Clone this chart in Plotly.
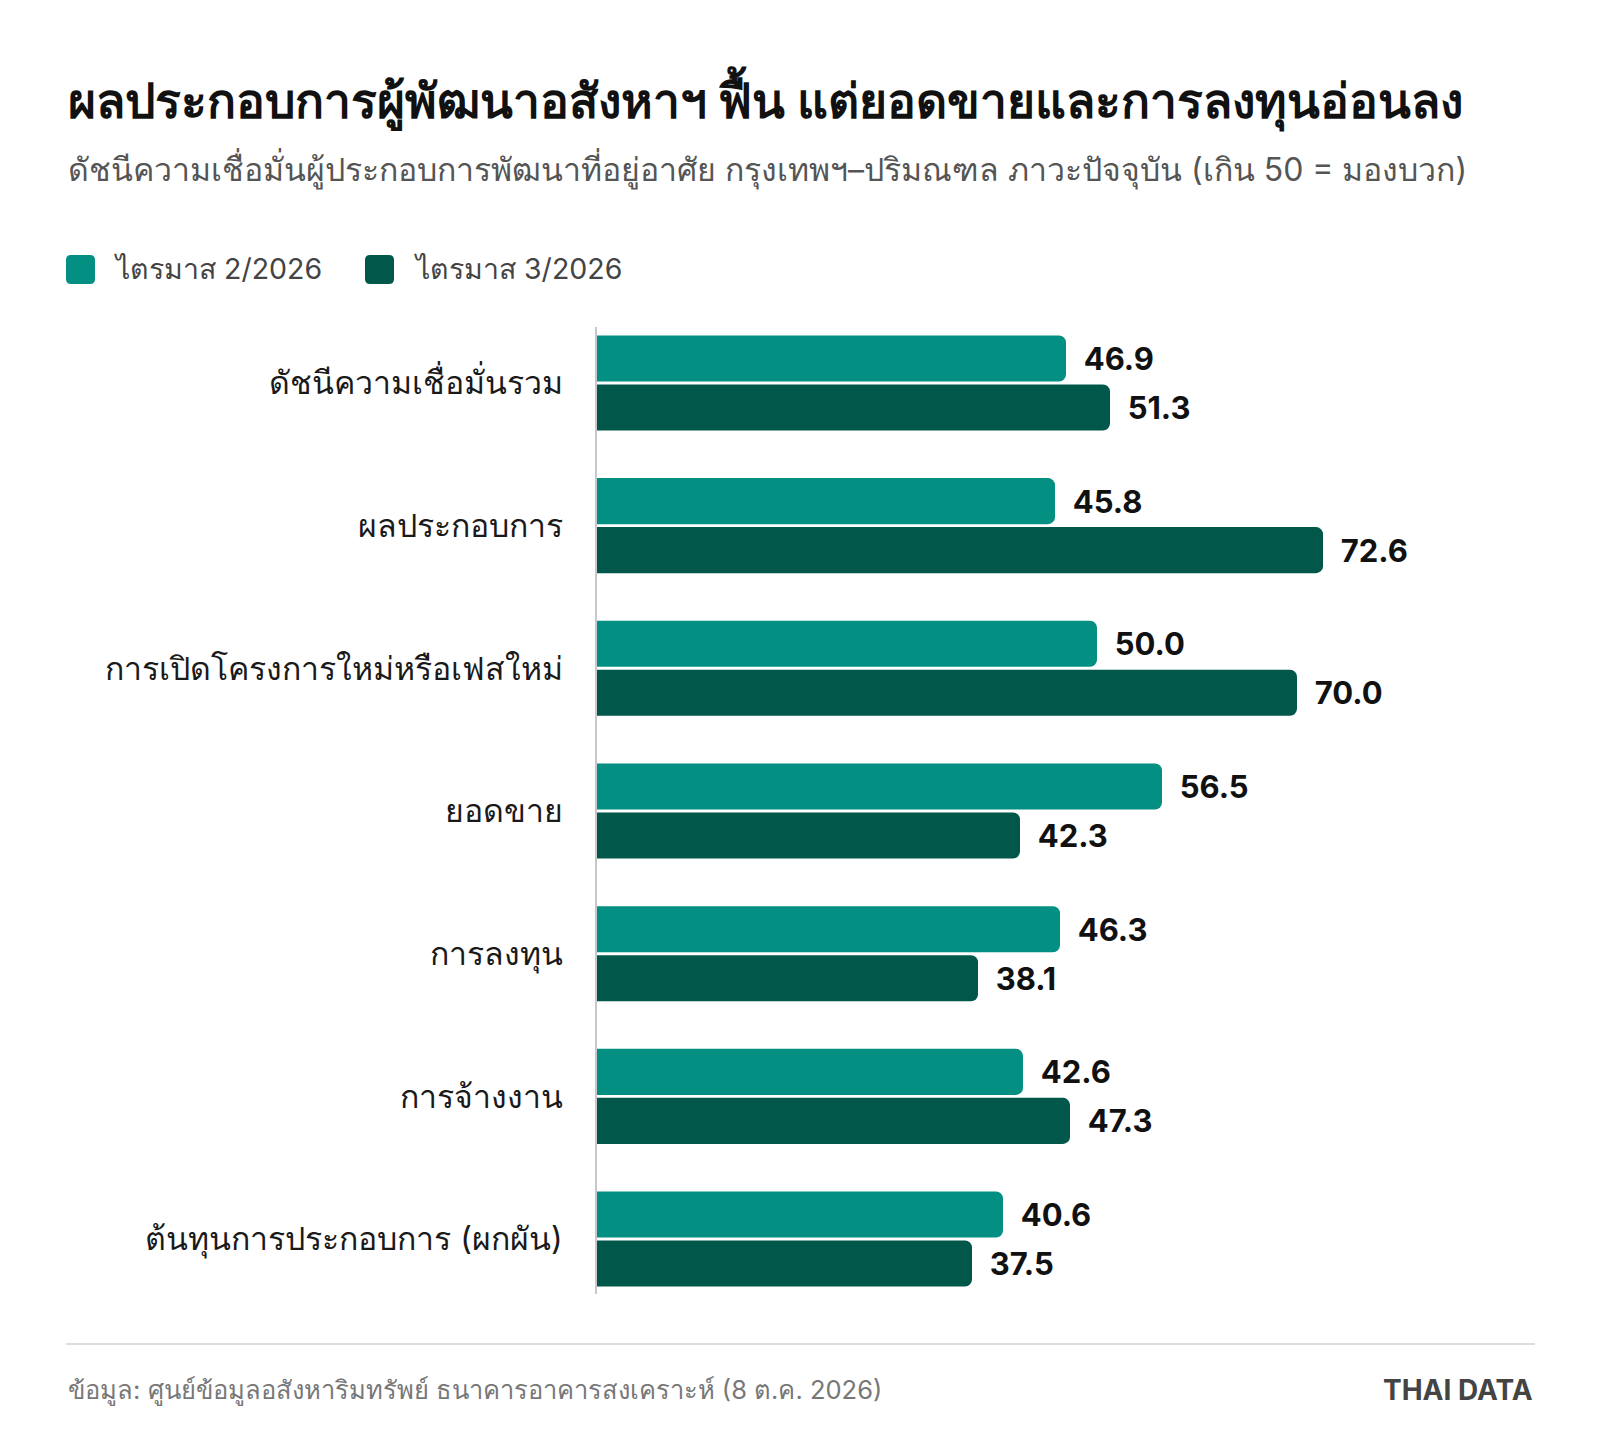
import plotly.graph_objects as go

categories = [
    "ดัชนีความเชื่อมั่นรวม",
    "ผลประกอบการ",
    "การเปิดโครงการใหม่หรือเฟสใหม่",
    "ยอดขาย",
    "การลงทุน",
    "การจ้างงาน",
    "ต้นทุนการประกอบการ (ผกผัน)",
]
series_names = ["ไตรมาส 2/2026", "ไตรมาส 3/2026"]
q2_values = [46.9, 45.8, 50.0, 56.5, 46.3, 42.6, 40.6]
q3_values = [51.3, 72.6, 70.0, 42.3, 38.1, 47.3, 37.5]
colors = ["#039083", "#02574B"]

title = "ผลประกอบการผู้พัฒนาอสังหาฯ ฟื้น แต่ยอดขายและการลงทุนอ่อนลง"
subtitle = "ดัชนีความเชื่อมั่นผู้ประกอบการพัฒนาที่อยู่อาศัย กรุงเทพฯ–ปริมณฑล ภาวะปัจจุบัน (เกิน 50 = มองบวก)"
source = "ข้อมูล: ศูนย์ข้อมูลอสังหาริมทรัพย์ ธนาคารอาคารสงเคราะห์ (8 ต.ค. 2026)"
brand = "THAI DATA"

W, H = 1600, 1456
L, R, T, B = 597, 65, 327, 162
PW, PH = W - L - R, H - T - B
FONT = "Inter, Noto Sans, sans-serif"

fig = go.Figure()
for name, vals, col in zip(series_names, [q2_values, q3_values], colors):
    fig.add_trace(go.Bar(
        y=categories, x=vals, name=name, orientation="h",
        marker=dict(color=col, cornerradius=7, line=dict(width=0)),
        text=[f"{v:.1f}" for v in vals],
        texttemplate="\u00a0\u00a0%{text}",
        textposition="outside", cliponaxis=False, constraintext="none",
        textfont=dict(size=31, color="#111111", family=FONT, weight="bold"),
        showlegend=False,
    ))

fig.update_layout(
    width=W, height=H,
    margin=dict(l=L, r=R, t=T, b=B),
    paper_bgcolor="white", plot_bgcolor="white",
    barmode="group", bargap=0.313, bargroupgap=0.061,
    font=dict(family=FONT),
    xaxis=dict(range=[0, 93.8], visible=False, fixedrange=True),
    yaxis=dict(
        range=[6.385, -0.392], showgrid=False, zeroline=False,
        showline=True, linecolor="#C8C8C8", linewidth=2,
        ticks="", ticklabelstandoff=26,
        tickfont=dict(size=32, color="#1A1A1A", family=FONT),
    ),
)

def px(x):
    return (x - L) / PW

def py(y):
    return (H - B - y) / PH

annos = [
    dict(text=f"<b>{title}</b>", x=px(66), y=py(99), xanchor="left", yanchor="middle",
         font=dict(size=48, color="#111111")),
    dict(text=subtitle, x=px(66), y=py(169), xanchor="left", yanchor="middle",
         font=dict(size=32, color="#555555")),
    dict(text=series_names[0], x=px(112), y=py(269), xanchor="left", yanchor="middle",
         font=dict(size=28.5, color="#444444")),
    dict(text=series_names[1], x=px(412), y=py(269), xanchor="left", yanchor="middle",
         font=dict(size=28.5, color="#444444")),
    dict(text=source, x=px(66), y=py(1390), xanchor="left", yanchor="middle",
         font=dict(size=25.5, color="#777777")),
    dict(text=f"<b>{brand}</b>", x=px(1535), y=py(1390), xanchor="right", yanchor="middle",
         font=dict(size=28, color="#444444")),
]
for a in annos:
    a.update(xref="paper", yref="paper", showarrow=False)
    fig.add_annotation(**a)

def rrect_paper(x0, y0, x1, y1, r):
    def P(x, y):
        return f"{px(x)},{py(y)}"
    return (f"M {P(x0+r,y0)} L {P(x1-r,y0)} Q {P(x1,y0)} {P(x1,y0+r)} L {P(x1,y1-r)} "
            f"Q {P(x1,y1)} {P(x1-r,y1)} L {P(x0+r,y1)} Q {P(x0,y1)} {P(x0,y1-r)} L {P(x0,y0+r)} Q {P(x0,y0)} {P(x0+r,y0)} Z")

for x0, col in [(66, colors[0]), (365, colors[1])]:
    fig.add_shape(type="path", xref="paper", yref="paper",
                  path=rrect_paper(x0, 255, x0 + 29, 284, 5),
                  fillcolor=col, line=dict(width=0))

fig.add_shape(type="line", xref="paper", yref="paper",
              x0=px(66), x1=px(1535), y0=py(1344), y1=py(1344),
              line=dict(color="#DDDDDD", width=2))

fig.write_html("out.html")
